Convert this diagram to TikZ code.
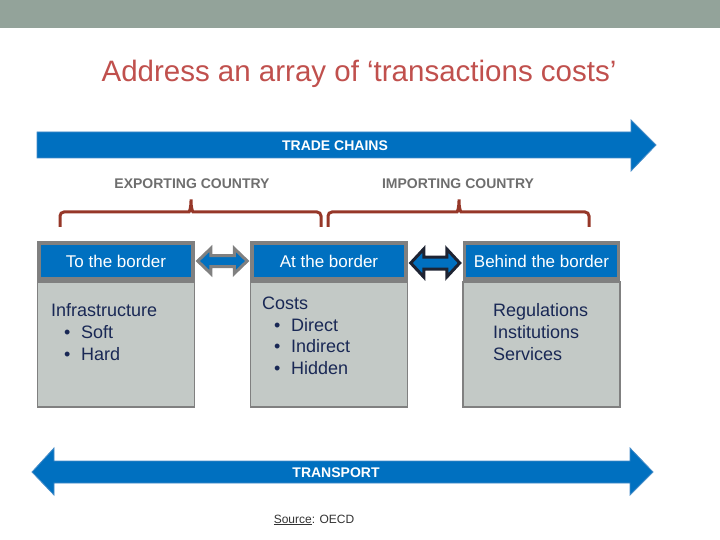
\documentclass[tikz,border=0pt]{standalone}
\usepackage{fontspec}
\setmainfont{Liberation Sans}
\usetikzlibrary{calc}
\definecolor{band}{RGB}{147,163,154}
\definecolor{titlered}{RGB}{192,80,77}
\definecolor{tblue}{RGB}{0,112,192}
\definecolor{tblueedge}{RGB}{70,140,200}
\definecolor{boxgray}{RGB}{128,128,128}
\definecolor{bodyfill}{RGB}{195,201,198}
\definecolor{navy}{RGB}{25,40,85}
\definecolor{labgray}{RGB}{110,110,110}
\definecolor{bracered}{RGB}{150,55,40}
\definecolor{darkedge}{RGB}{30,35,50}
\definecolor{srcgray}{RGB}{50,50,50}
\tikzset{
  hdr/.style={draw=boxgray, line width=3.5pt, fill=tblue, minimum width=154pt, minimum height=36pt, inner sep=0pt, text=white, font=\fontsize{17}{20}\selectfont},
  bodybox/.style={draw=boxgray, line width=1.2pt, fill=bodyfill, minimum width=157pt, minimum height=125pt, inner sep=0pt},
  btxt/.style={anchor=base west, inner sep=0pt, text=navy, font=\fontsize{18}{21}\selectfont},
  bigarrow/.style={fill=tblue, draw=tblueedge, line width=0.8pt, line join=miter},
  bartxt/.style={inner sep=0pt, text=white, font=\fontsize{14}{16}\selectfont\bfseries},
  countrytxt/.style={inner sep=0pt, text=labgray, font=\fontsize{14}{16}\selectfont\bfseries},
  bracepath/.style={draw=bracered, line width=3pt, rounded corners=4pt},
  smallarrowgray/.style={fill=tblue, draw=boxgray, line width=3pt, line join=miter},
  smallarrowdark/.style={fill=tblue, draw=darkedge, line width=3pt, line join=miter}
}
\begin{document}
\begin{tikzpicture}[x=1pt,y=-1pt]
\useasboundingbox (0,0) rectangle (720,540);
% top band
\fill[band] (0,0) rectangle (720,28);
% title
\node[anchor=base, inner sep=0pt, text=titlered, font=\fontsize{29.5}{34}\selectfont] (title) at (359,82) {Address an array of ‘transactions costs’};
% trade chains arrow
\draw[bigarrow] (37,132) -- (631,132) -- (631,120) -- (656,145) -- (631,171) -- (631,158) -- (37,158) -- cycle;
\node[bartxt] (trade) at (335,146) {TRADE CHAINS};
% country labels
\node[countrytxt] (exp) at (192,184) {EXPORTING COUNTRY};
\node[countrytxt] (imp) at (458,184) {IMPORTING COUNTRY};
% braces
\path[bracepath] (60,227) -- (60,212) -- (185,212) .. controls (189.5,212) and (191,207) .. (191,197) .. controls (191,207) and (192.5,212) .. (197,212) -- (321,212) -- (321,227);
\path[bracepath] (328,227) -- (328,212) -- (453,212) .. controls (457.5,212) and (459,207) .. (459,197) .. controls (459,207) and (460.5,212) .. (465,212) -- (589,212) -- (589,227);
% boxes
\node[bodybox] (body1) at (116,344.5) {};
\node[bodybox] (body2) at (329,344.5) {};
\node[bodybox] (body3) at (541.5,344.5) {};
\node[hdr] (h1) at (116,261) {To the border};
\node[hdr] (h2) at (329,261) {At the border};
\node[hdr] (h3) at (541.5,261) {Behind the border};
% small double arrows
\draw[smallarrowgray] ($(h1.east)+(3,0)$) -- ($(h1.east)+(16,-12.5)$) -- ($(h1.east)+(16,-5.5)$) -- ($(h2.west)+(-16,-5.5)$) -- ($(h2.west)+(-16,-12.5)$) -- ($(h2.west)+(-3,0)$) -- ($(h2.west)+(-16,12.5)$) -- ($(h2.west)+(-16,5.5)$) -- ($(h1.east)+(16,5.5)$) -- ($(h1.east)+(16,12.5)$) -- cycle;
\draw[smallarrowdark] ($(h2.east)+(3,2)$) -- ($(h2.east)+(16,-12)$) -- ($(h2.east)+(16,-4)$) -- ($(h3.west)+(-16,-4)$) -- ($(h3.west)+(-16,-12)$) -- ($(h3.west)+(-3,2)$) -- ($(h3.west)+(-16,16)$) -- ($(h3.west)+(-16,8)$) -- ($(h2.east)+(16,8)$) -- ($(h2.east)+(16,16)$) -- cycle;
% body texts
\node[btxt] (t11) at (51,316.5) {Infrastructure};
\node[btxt] (t12b) at (64,338.5) {•};
\node[btxt] (t12) at (81,338.5) {Soft};
\node[btxt] (t13b) at (64,360) {•};
\node[btxt] (t13) at (81,360) {Hard};
\node[btxt] (t21) at (262,309.5) {Costs};
\node[btxt] (t22b) at (274,331) {•};
\node[btxt] (t22) at (291,331) {Direct};
\node[btxt] (t23b) at (274,352.5) {•};
\node[btxt] (t23) at (291,352.5) {Indirect};
\node[btxt] (t24b) at (274,374) {•};
\node[btxt] (t24) at (291,374) {Hidden};
\node[btxt] (t31) at (493,316.5) {Regulations};
\node[btxt] (t32) at (493,338.5) {Institutions};
\node[btxt] (t33) at (493,360) {Services};
% transport arrow
\draw[bigarrow] (32,472) -- (54,448) -- (54,461) -- (630,461) -- (630,448) -- (653,472) -- (630,495) -- (630,483) -- (54,483) -- (54,495) -- cycle;
\node[bartxt] (transport) at (336,473) {TRANSPORT};
% source
\node[inner sep=0pt, text=srcgray, font=\fontsize{12}{14}\selectfont] (src) at (314,520) {\underline{Source}: OECD};
\end{tikzpicture}
\end{document}
